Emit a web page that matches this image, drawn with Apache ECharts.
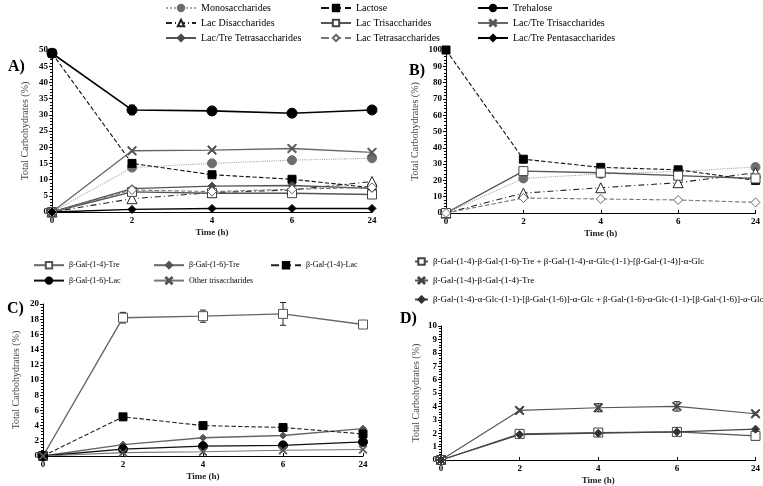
<!DOCTYPE html>
<html lang="en">
<head>
<meta charset="UTF-8">
<title>Carbohydrates</title>
<script src="https://cdn.jsdelivr.net/npm/echarts@6/dist/echarts.min.js"></script>
<style>
  html, body { margin: 0; padding: 0; background: #fff; }
  #chart { width: 763px; height: 486px; }
</style>
</head>
<body>
<div id="chart"></div>
<script>
// time points (h)
var times = ['0', '2', '4', '6', '24'];

// panel A
var aMono       = [0, 13.7, 15.0, 16.0, 16.6];
var aLactose    = [49, 15.0, 11.5, 10.1, 7.5];
var aTrehalose  = [49, 31.5, 31.2, 30.5, 31.5];
var aTreErr     = [0, 1.5, 1.3, 1.2, 0.4];
var aLacDi      = [0, 4.1, 6.0, 6.8, 9.4];
var aLacTri     = [0, 6.2, 5.8, 5.8, 5.4];
var aLacTreTri  = [0, 18.9, 19.1, 19.6, 18.4];
var aLacTreTetra= [0, 7.2, 8.0, 8.2, 7.3];
var aLacTetra   = [0, 6.8, 6.3, 7.0, 7.6];
var aLacTrePenta= [0, 0.8, 1.1, 1.1, 1.1];

// panel B
var bMono      = [0, 21.2, 24.0, 25.5, 28.2];
var bLactose   = [100, 33.0, 28.0, 26.5, 20.0];
var bLacDi     = [0, 12.2, 15.5, 18.6, 24.7];
var bLacTri    = [0, 25.7, 24.7, 22.9, 21.2];
var bLacTetra  = [0, 9.2, 8.6, 8.0, 6.5];

// panel C
var cGal14Tre   = [0, 18.2, 18.4, 18.7, 17.3];
var cGal14TreErr= [0, 0.7, 0.8, 1.5, 0.2];
var cGal16Tre   = [0, 1.5, 2.4, 2.7, 3.6];
var cGal14Lac   = [0, 5.15, 4.0, 3.75, 2.9];
var cGal16Lac   = [0, 0.9, 1.3, 1.4, 1.85];
var cOther      = [0, 0.45, 0.55, 0.75, 0.85];

// panel D
var dSquare  = [0, 1.95, 2.05, 2.1, 1.8];
var dCross   = [0, 3.7, 3.9, 4.0, 3.45];
var dCrossErr= [0, 0.1, 0.3, 0.35, 0.1];
var dDiamond = [0, 1.9, 2.0, 2.1, 2.3];

var serif = 'Liberation Serif';
var cross = 'path://M0,1L1,0L5,4L9,0L10,1L6,5L10,9L9,10L5,6L1,10L0,9L4,5Z';

var names = {
    mono: 'Monosaccharides', lac: 'Lactose', tre: 'Trehalose',
    di: 'Lac Disaccharides', tri: 'Lac Trisaccharides', ltTri: 'Lac/Tre Trisaccharides',
    ltTetra: 'Lac/Tre Tetrasaccharides', tetra: 'Lac Tetrasaccharides', ltPenta: 'Lac/Tre Pentasaccharides',
    c1: 'β-Gal-(1-4)-Tre', c2: 'β-Gal-(1-6)-Tre', c3: 'β-Gal-(1-4)-Lac',
    c4: 'β-Gal-(1-6)-Lac', c5: 'Other trisaccharides',
    d1: 'β-Gal-(1-4)-β-Gal-(1-6)-Tre + β-Gal-(1-4)-α-Glc-(1-1)-[β-Gal-(1-4)]-α-Glc',
    d2: 'β-Gal-(1-4)-β-Gal-(1-4)-Tre',
    d3: 'β-Gal-(1-4)-α-Glc-(1-1)-[β-Gal-(1-6)]-α-Glc + β-Gal-(1-6)-α-Glc-(1-1)-[β-Gal-(1-6)]-α-Glc'
};

// styles per series kind
var styles = {
    mono:    { symbol: 'circle', size: 9, fill: '#6d6d6d', border: '#6d6d6d', line: '#a8a8a8', type: 'dotted' },
    lac:     { symbol: 'rect', size: 8, fill: '#000', border: '#000', line: '#111', type: 'dashed' },
    tre:     { symbol: 'circle', size: 10, fill: '#000', border: '#000', line: '#000', type: 'solid', width: 1.6 },
    di:      { symbol: 'triangle', size: 10, fill: '#fff', border: '#222', line: '#222', type: [6, 3, 1, 3] },
    tri:     { symbol: 'rect', size: 9, fill: '#fff', border: '#444', line: '#555', type: 'solid', width: 1.4 },
    ltTri:   { symbol: cross, size: 9, fill: '#555', border: '#555', line: '#666', type: 'solid', width: 1.3 },
    ltTetra: { symbol: 'diamond', size: 8, fill: '#4a4a4a', border: '#4a4a4a', line: '#555', type: 'solid', width: 1.4 },
    tetra:   { symbol: 'diamond', size: 9, fill: '#fff', border: '#666', line: '#777', type: 'dashed' },
    ltPenta: { symbol: 'diamond', size: 8, fill: '#000', border: '#000', line: '#000', type: 'solid', width: 1.4 },
    c1:      { symbol: 'rect', size: 9, fill: '#fff', border: '#555', line: '#666', type: 'solid', width: 1.4 },
    c2:      { symbol: 'diamond', size: 7, fill: '#555', border: '#555', line: '#666', type: 'solid', width: 1.3 },
    c3:      { symbol: 'rect', size: 8, fill: '#000', border: '#000', line: '#222', type: 'dashed' },
    c4:      { symbol: 'circle', size: 9, fill: '#000', border: '#000', line: '#111', type: 'solid', width: 1.3 },
    c5:      { symbol: cross, size: 8, fill: '#555', border: '#555', line: '#777', type: 'solid' },
    d1:      { symbol: 'rect', size: 9, fill: '#fff', border: '#444', line: '#555', type: 'solid', width: 1.3 },
    d2:      { symbol: cross, size: 9, fill: '#444', border: '#444', line: '#555', type: 'solid' },
    d3:      { symbol: 'diamond', size: 8, fill: '#333', border: '#333', line: '#444', type: 'solid', width: 1.3 }
};

function line(key, idx, data) {
    var s = styles[key];
    return {
        name: names[key], type: 'line', xAxisIndex: idx, yAxisIndex: idx,
        data: data, symbol: s.symbol, symbolSize: s.size, showAllSymbol: true,
        lineStyle: { color: s.line, width: s.width || 1.1, type: s.type },
        itemStyle: { color: s.fill, borderColor: s.border, borderWidth: 1 },
        animation: false, z: 3
    };
}

function errBars(idx, vals, errs) {
    return {
        type: 'custom', xAxisIndex: idx, yAxisIndex: idx, silent: true, z: 2,
        data: vals.map(function (v, i) { return [i, v, errs[i]]; }),
        encode: { x: 0, y: 1 },
        renderItem: function (p, api) {
            var x = api.value(0), y = api.value(1), e = api.value(2);
            if (!e) return;
            var t = api.coord([x, y + e]), b = api.coord([x, y - e]);
            var st = { stroke: '#222', lineWidth: 1 };
            return { type: 'group', children: [
                { type: 'line', shape: { x1: t[0], y1: t[1], x2: b[0], y2: b[1] }, style: st },
                { type: 'line', shape: { x1: t[0] - 3, y1: t[1], x2: t[0] + 3, y2: t[1] }, style: st },
                { type: 'line', shape: { x1: b[0] - 3, y1: b[1], x2: b[0] + 3, y2: b[1] }, style: st }
            ] };
        }
    };
}

function xAx(idx) {
    return {
        gridIndex: idx, type: 'category', data: times, boundaryGap: false,
        name: 'Time (h)', nameLocation: 'middle', nameGap: 16,
        nameTextStyle: { fontFamily: serif, fontSize: 9, color: '#222', fontWeight: 'bold' },
        axisLine: { lineStyle: { color: '#000', width: 1 } },
        axisTick: { show: true, length: 3, inside: true, lineStyle: { color: '#000' } },
        axisLabel: { fontFamily: serif, fontSize: 9, color: '#000', fontWeight: 'bold', margin: 4 },
        splitLine: { show: false }
    };
}

function yAx(idx, max, step, gap) {
    return {
        gridIndex: idx, type: 'value', min: 0, max: max, interval: step,
        name: 'Total Carbohydrates (%)', nameLocation: 'middle', nameGap: gap,
        nameTextStyle: { fontFamily: serif, fontSize: 10, color: '#444' },
        axisLine: { show: true, lineStyle: { color: '#000', width: 1 } },
        axisTick: { show: true, length: 3, lineStyle: { color: '#000' } },
        minorTick: { show: true, splitNumber: 5, length: 2, lineStyle: { color: '#000' } },
        axisLabel: { fontFamily: serif, fontSize: 9, color: '#000', fontWeight: 'bold', margin: 4 },
        splitLine: { show: false }
    };
}

function legendCol(left, top, data, gap, w, fs) {
    return {
        orient: 'vertical', left: left, top: top, data: data, itemGap: gap,
        itemWidth: w, itemHeight: 8, selectedMode: false, padding: 0,
        textStyle: { fontFamily: serif, fontSize: fs, color: '#000' }
    };
}

var chart = echarts.init(document.getElementById('chart'));

chart.setOption({
    backgroundColor: '#fff',
    animation: false,
    textStyle: { fontFamily: serif },
    title: [
        { text: 'A)', left: 3, top: 54, textStyle: { fontFamily: serif, fontSize: 16, fontWeight: 'bold', color: '#000' } },
        { text: 'B)', left: 404, top: 58, textStyle: { fontFamily: serif, fontSize: 16, fontWeight: 'bold', color: '#000' } },
        { text: 'C)', left: 2, top: 296, textStyle: { fontFamily: serif, fontSize: 16, fontWeight: 'bold', color: '#000' } },
        { text: 'D)', left: 395, top: 306, textStyle: { fontFamily: serif, fontSize: 16, fontWeight: 'bold', color: '#000' } }
    ],
    legend: [
        legendCol(165, 3, [names.mono, names.di, names.ltTetra], 5, 30, 10),
        legendCol(320, 3, [names.lac, names.tri, names.tetra], 5, 30, 10),
        legendCol(477, 3, [names.tre, names.ltTri, names.ltPenta], 5, 30, 10),
        legendCol(33, 261, [names.c1, names.c4], 7, 30, 8),
        legendCol(153, 261, [names.c2, names.c5], 7, 30, 8),
        legendCol(270, 261, [names.c3], 7, 30, 8),
        legendCol(414, 257, [names.d1, names.d2, names.d3], 10, 13, 9)
    ],
    grid: [
        { left: 52, right: 391, top: 50, bottom: 274 },
        { left: 446, right: 6, top: 50, bottom: 273 },
        { left: 43, right: 400, top: 304, bottom: 30 },
        { left: 441, right: 6, top: 326, bottom: 25 }
    ],
    xAxis: [xAx(0), xAx(1), xAx(2), xAx(3)],
    yAxis: [yAx(0, 50, 5, 22), yAx(1, 100, 10, 26), yAx(2, 20, 2, 22), yAx(3, 10, 1, 20)],
    series: [
        errBars(0, aTrehalose, aTreErr),
        line('mono', 0, aMono),
        line('lac', 0, aLactose),
        line('tre', 0, aTrehalose),
        line('di', 0, aLacDi),
        line('tri', 0, aLacTri),
        line('ltTri', 0, aLacTreTri),
        line('ltTetra', 0, aLacTreTetra),
        line('tetra', 0, aLacTetra),
        line('ltPenta', 0, aLacTrePenta),

        line('mono', 1, bMono),
        line('lac', 1, bLactose),
        line('di', 1, bLacDi),
        line('tri', 1, bLacTri),
        line('tetra', 1, bLacTetra),

        errBars(2, cGal14Tre, cGal14TreErr),
        line('c1', 2, cGal14Tre),
        line('c2', 2, cGal16Tre),
        line('c3', 2, cGal14Lac),
        line('c4', 2, cGal16Lac),
        line('c5', 2, cOther),

        errBars(3, dCross, dCrossErr),
        line('d1', 3, dSquare),
        line('d2', 3, dCross),
        line('d3', 3, dDiamond)
    ]
});
</script>
</body>
</html>
